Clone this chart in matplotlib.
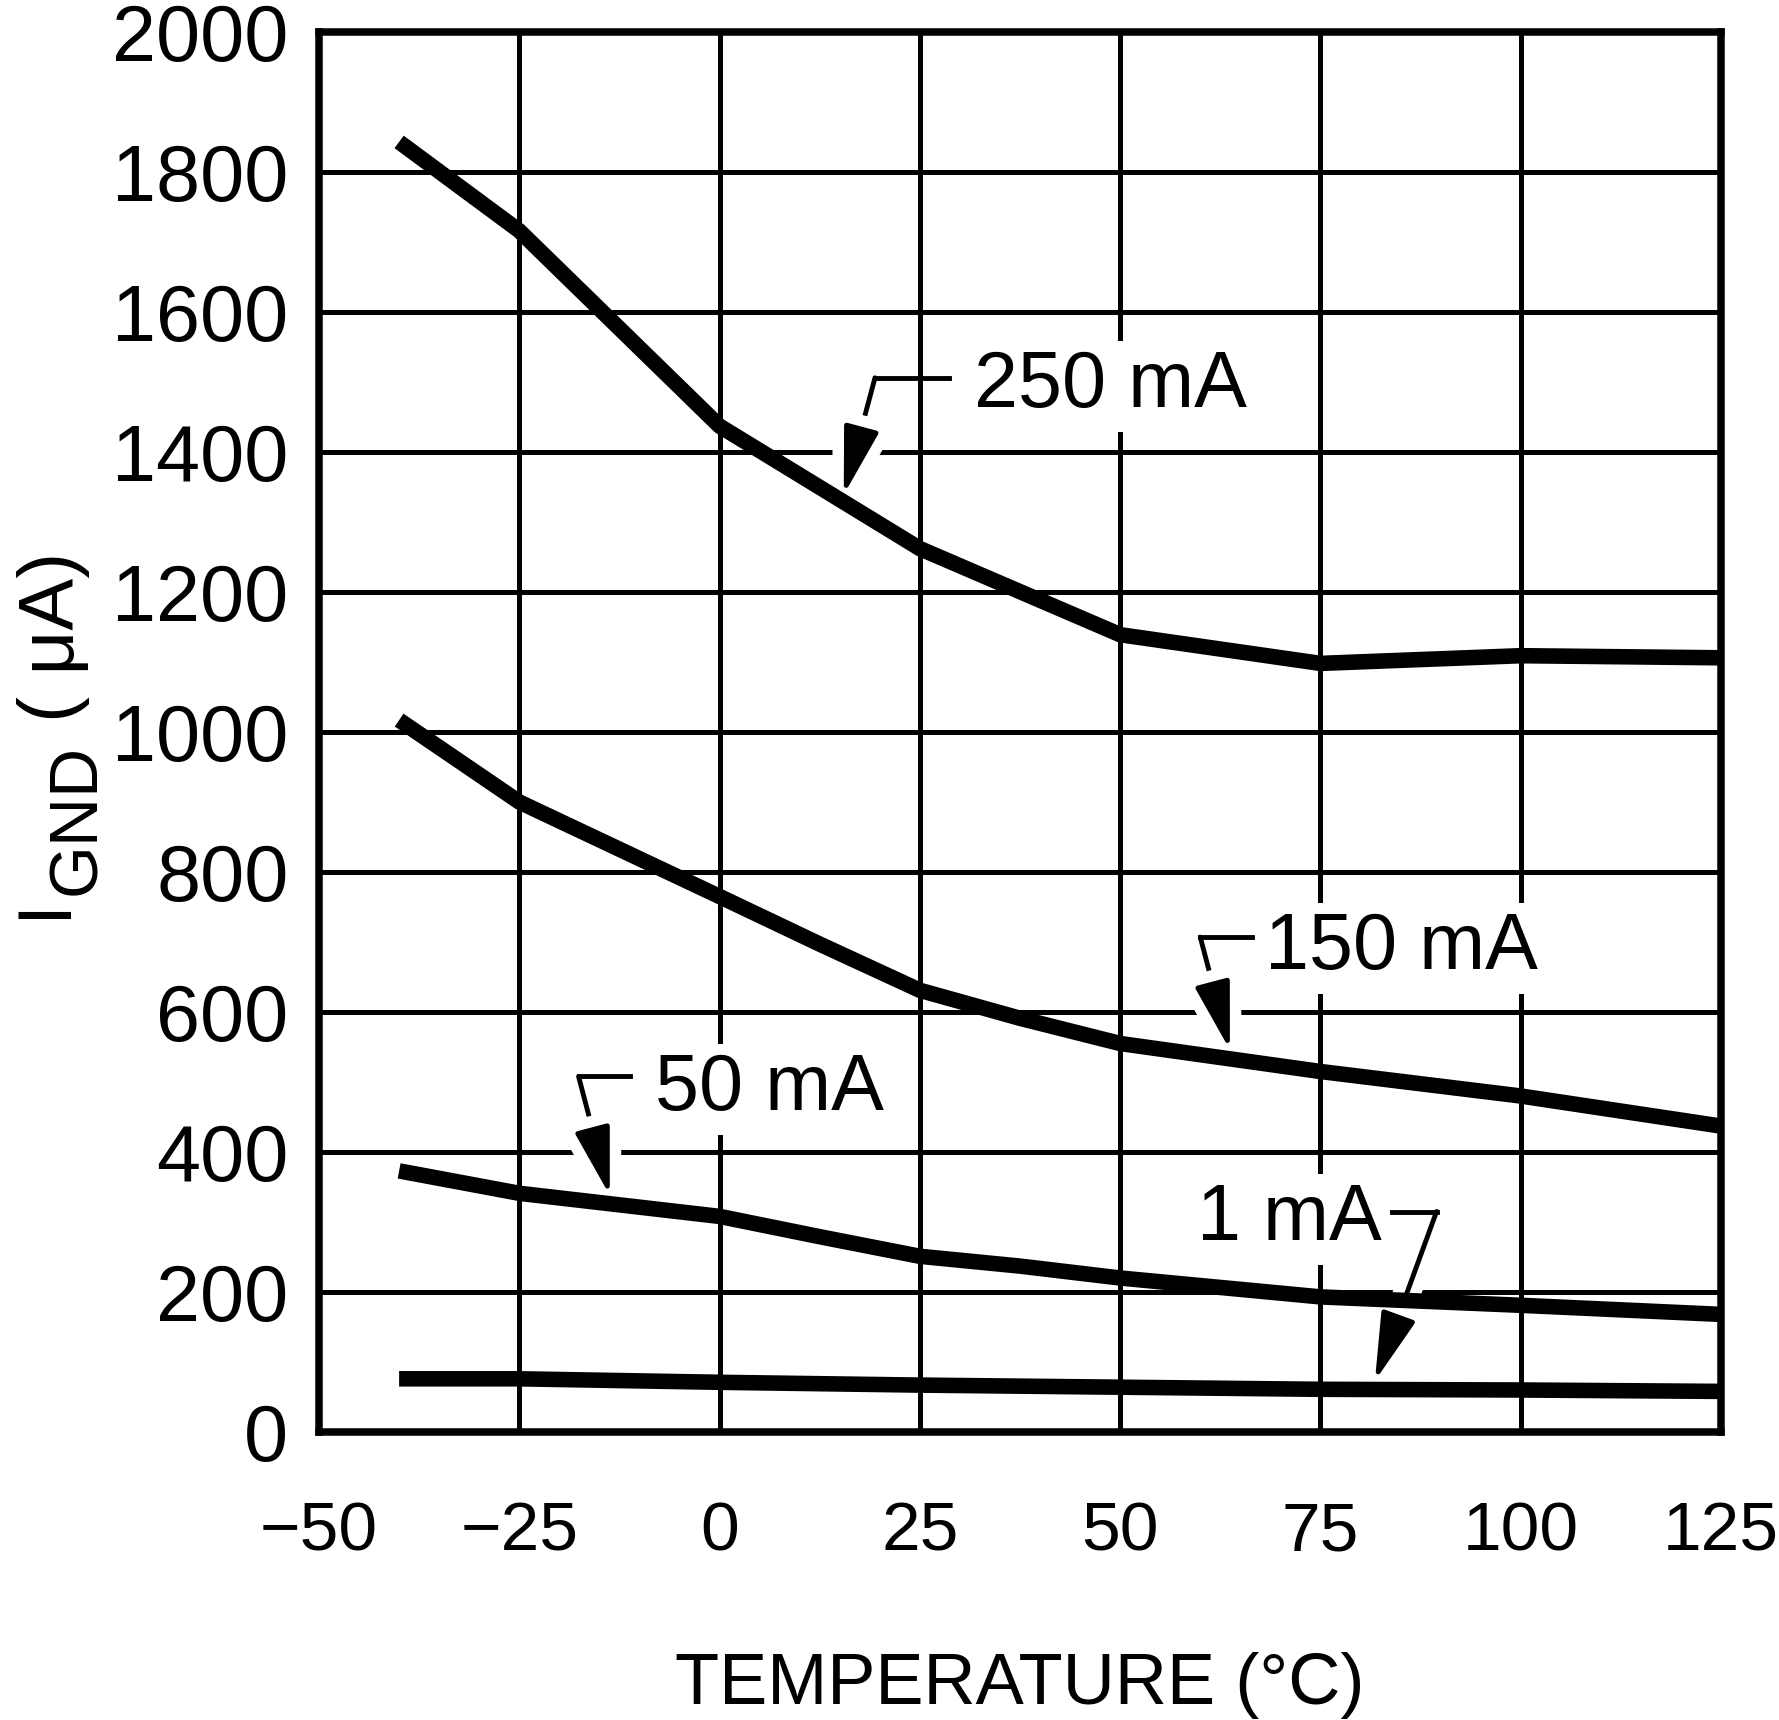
import matplotlib
matplotlib.use("Agg")
import matplotlib.pyplot as plt
import matplotlib.patheffects as pe
from matplotlib.patches import ArrowStyle

plt.rcParams['font.family'] = ['Liberation Sans', 'DejaVu Sans']

# ground current vs temperature
temp_250 = [-40, -25, 0, 25, 50, 75, 100, 125]
ignd_250 = [1843, 1716, 1437, 1262, 1139, 1098, 1109, 1106]

temp_150 = [-40, -25, 0, 12.5, 25, 37.5, 50, 75, 100, 125]
ignd_150 = [1017, 900, 765, 697, 631, 591, 555, 515, 480, 437]

temp_50 = [-40, -25, 0, 12.5, 25, 37.5, 50, 75, 100, 125]
ignd_50 = [373, 341, 308, 279, 251, 237, 220, 193, 181, 168]

temp_1 = [-40, -25, 0, 25, 50, 75, 100, 125]
ignd_1 = [76, 76, 71, 67, 64, 61, 60, 58]

x_ticks = [-50, -25, 0, 25, 50, 75, 100, 125]
y_ticks = list(range(0, 2001, 200))

# label, text (left, baseline), leader corner, leader end, arrow tip
callouts = [
    ("250 mA", (31.8, 1464), (19.4, 1506), (28.6, 1506), (15.5, 1339)),
    ("150 mA", (68.1, 662), (60.0, 707), (66.4, 707), (63.7, 546)),
    ("50 mA", (-8.0, 460), (-17.6, 508), (-11.2, 508), (-13.7, 338)),
    ("1 mA", (59.6, 274), (89.5, 315), (82.9, 315), (81.8, 73)),
]

W, H = 1779, 1720
FS = 57

fig = plt.figure(figsize=(W / 100, H / 100), dpi=100)
ax = fig.add_axes([319 / W, 1 - 1432 / H, 1402 / W, 1400 / H])

for t, i in [(temp_250, ignd_250), (temp_150, ignd_150), (temp_50, ignd_50), (temp_1, ignd_1)]:
    ax.plot(t, i, color='black', lw=11.2, solid_capstyle='butt', zorder=3)

head = ArrowStyle('-|>', head_length=42, head_width=11)
for label, txt, corner, end, tip in callouts:
    ax.annotate('', xy=tip, xytext=corner, zorder=2,
                arrowprops=dict(arrowstyle=head, color='black', lw=3.5,
                                shrinkA=0, shrinkB=0, mutation_scale=1,
                                path_effects=[pe.withStroke(linewidth=20, foreground='white')]))
    ax.plot([corner[0], end[0]], [corner[1], end[1]], color='black', lw=3.5,
            solid_capstyle='projecting', zorder=3)
    ax.text(txt[0], txt[1], label, fontsize=FS, ha='left', va='baseline', zorder=4,
            bbox=dict(facecolor='white', edgecolor='none', boxstyle='square,pad=0.1'))

ax.set_xlim(-50, 125)
ax.set_ylim(0, 2000)
ax.set_xticks(x_ticks)
ax.set_yticks(y_ticks)
ax.tick_params(length=0)
ax.tick_params(axis='x', labelsize=50, pad=49)
ax.tick_params(axis='y', labelsize=FS, pad=22)
ax.grid(True, color='black', lw=3.6)
ax.set_axisbelow(True)
for s in ax.spines.values():
    s.set_linewidth(5.4)

ax.set_xlabel('TEMPERATURE (°C)', fontsize=52, labelpad=63)

# y label built from pieces so the subscript sits like the original
fig.text(65 / W, 1 - 918 / H, 'I', fontsize=55, rotation=90, rotation_mode='anchor',
         ha='left', va='baseline')
fig.text(95 / W, 1 - 895 / H, 'GND', fontsize=49, rotation=90, rotation_mode='anchor',
         ha='left', va='baseline')
fig.text(74 / W, 1 - 722 / H, '( μA)', fontsize=56, rotation=90, rotation_mode='anchor',
         ha='left', va='baseline')

fig.savefig('out.png', dpi=100)
